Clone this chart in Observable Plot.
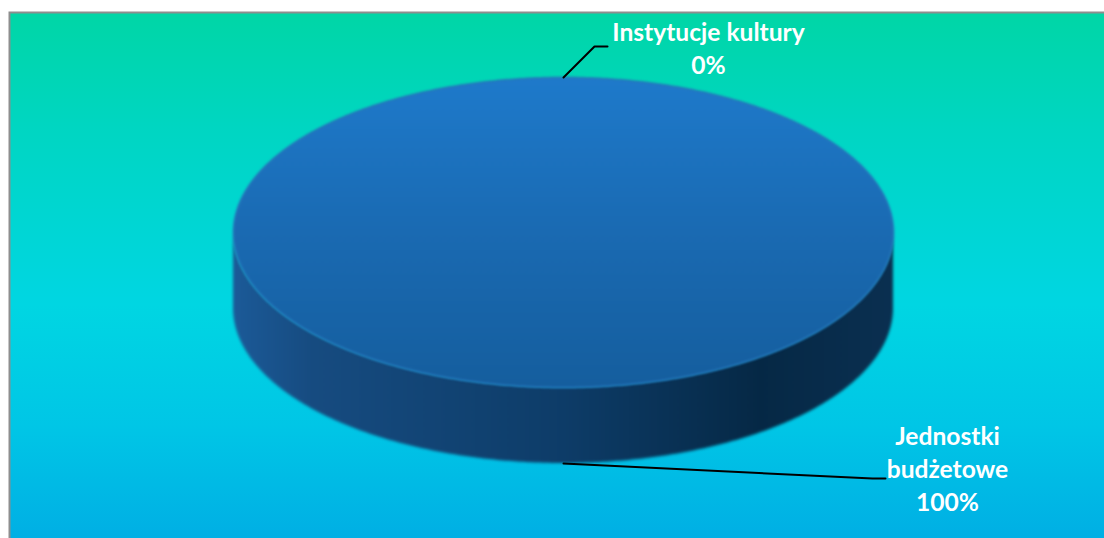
<!DOCTYPE html>
<html lang="pl">
<head>
<meta charset="utf-8">
<script src="https://cdn.jsdelivr.net/npm/d3@7"></script>
<script src="https://cdn.jsdelivr.net/npm/@observablehq/plot@0.6"></script>
<style>
html,body{margin:0;padding:0;background:#fff;overflow:hidden}
</style>
</head>
<body>
<div id="chart"></div>
<script>
const categories = ["Instytucje kultury", "Jednostki budżetowe"];
const shares = [0, 100];
const labelLines = ["Instytucje kultury\n0%", "Jednostki\nbudżetowe\n100%"];

// layout of the tilted disc, in pixels
const W = 1104, H = 538, cx = 563, cy = 232, rx = 330, ry = 155, depth = 76;
const tilt = ry / rx, wall = depth / rx;
const px = v => v / rx;

const slices = d3.pie().sort(null).value(d => d)(shares).map((s, i) => ({
  ...s, name: categories[i], label: labelLines[i], mid: (s.startAngle + s.endAngle) / 2
}));
const px0 = a => Math.sin(a), py0 = a => -Math.cos(a) * tilt;

const step = Math.PI / 360;
const topFace = slices.filter(s => s.value > 0).flatMap(s => {
  const pts = [];
  if (s.endAngle - s.startAngle < 2 * Math.PI - 1e-9) pts.push({name: s.name, x: 0, y: 0});
  for (let a = s.startAngle; a <= s.endAngle + 1e-9; a += step) pts.push({name: s.name, x: px0(a), y: py0(a)});
  return pts;
});
const wallFace = slices.filter(s => s.value > 0).flatMap(s => {
  const pts = [];
  const a0 = Math.max(s.startAngle, Math.PI / 2), a1 = Math.min(s.endAngle, 3 * Math.PI / 2);
  for (let a = a0; a <= a1 + 1e-9; a += step) pts.push({name: s.name, x: px0(a), y1: py0(a), y2: py0(a) + wall});
  return pts;
});

// leaders start on each slice's mid-angle edge, then run to the label
const leaders = [
  {s: slices[0], front: false, offs: [[31, -31], [44, -31]]},
  {s: slices[1], front: true, offs: [[309, 15], [322, 15]]}
].flatMap(({s, front, offs}) => {
  const x0 = px0(s.mid), y0 = py0(s.mid) + (front ? wall : 0);
  return [{name: s.name, x: x0, y: y0}, ...offs.map(([dx, dy]) => ({name: s.name, x: x0 + px(dx), y: y0 + px(dy)}))];
});
const labels = [
  {s: slices[0], dx: 145, dy: -31},
  {s: slices[1], dx: 384, dy: 4}
].map(({s, dx, dy}, i) => ({
  label: s.label,
  x: px0(s.mid) + px(dx),
  y: py0(s.mid) + (i ? wall : 0) + px(dy)
}));

const defs = () => {
  const d = d3.create("svg:defs");
  const grad = (id, horiz, stops) => {
    const g = d.append("linearGradient").attr("id", id).attr("x1", 0).attr("y1", 0)
      .attr("x2", horiz ? 1 : 0).attr("y2", horiz ? 0 : 1);
    stops.forEach(([o, c]) => g.append("stop").attr("offset", o).attr("stop-color", c));
  };
  grad("bg", false, [[0, "#00D6A6"], [0.22, "#00D6C2"], [0.55, "#00D6E2"], [0.78, "#00C6E6"], [1, "#00AEE4"]]);
  grad("topG", false, [[0, "#1E7ACB"], [0.5, "#1A6AB2"], [1, "#155E9E"]]);
  grad("wallG", true, [[0, "#1B5A98"], [0.12, "#164B80"], [0.5, "#0D3C68"], [0.8, "#052845"], [1, "#0A2F50"]]);
  return d.node();
};

const chart = Plot.plot({
  width: W, height: H,
  margin: 0,
  x: {domain: [-cx / rx, (W - cx) / rx], range: [0, W], axis: null},
  y: {domain: [-cy / rx, (H - cy) / rx], range: [0, H], axis: null},
  style: {background: "#fff", overflow: "hidden"},
  marks: [
    defs,
    Plot.frame({fill: "url(#bg)", stroke: "#8e8e8e", strokeWidth: 2, insetTop: 12, insetLeft: 9, insetRight: -4, insetBottom: -4}),
    Plot.area(wallFace, {x1: "x", y1: "y1", y2: "y2", z: "name", fill: "url(#wallG)", imageFilter: "blur(1.5px)"}),
    Plot.line(topFace, {x: "x", y: "y", z: "name", fill: "url(#topG)", stroke: "#2A6DB8", strokeWidth: 2, strokeOpacity: 0.7, curve: "linear", imageFilter: "blur(1px)"}),
    Plot.line(leaders, {x: "x", y: "y", z: "name", stroke: "#000", strokeWidth: 2, curve: "linear"}),
    Plot.text(labels, {
      x: "x", y: "y", text: "label", fill: "#fff",
      fontFamily: "Lato", fontWeight: 700, fontSize: 24.6, lineHeight: 1.34, lineAnchor: "middle"
    })
  ]
});
document.getElementById("chart").appendChild(chart);
</script>
</body>
</html>
